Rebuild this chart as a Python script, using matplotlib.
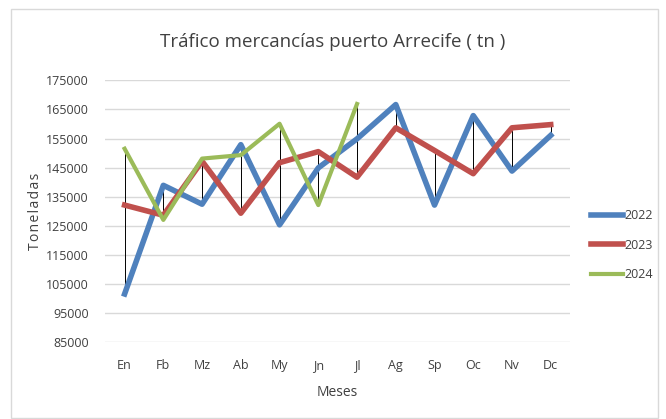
import numpy as np
import matplotlib
matplotlib.use('Agg')
import matplotlib.pyplot as plt
from matplotlib.patches import Rectangle

plt.rcParams['font.family'] = ['Open Sans', 'DejaVu Sans']

# Data
meses = ['En', 'Fb', 'Mz', 'Ab', 'My', 'Jn', 'Jl', 'Ag', 'Sp', 'Oc', 'Nv', 'Dc']
t2022 = [101500, 138900, 132400, 152900, 125300, 144900, 154900, 166700, 132100, 162900, 143800, 156100]
t2023 = [132100, 128600, 147200, 129300, 146700, 150500, 141700, 158700, 150900, 142900, 158700, 159800]
t2024 = [151500, 127000, 148100, 149300, 160100, 132100, 166900]
yticks = np.arange(85000, 175001, 10000)

fig = plt.figure(figsize=(6.66, 4.19), dpi=100)
ax = fig.add_axes([0.158, 0.184, 0.698, 0.624])

# chart border
fig.patches.append(Rectangle((11/666, 1 - 418/419), 647/666, 409/419,
                             transform=fig.transFigure, fill=False,
                             edgecolor='#d9d9d9', linewidth=1))

x = np.arange(len(meses))
x24 = np.arange(len(t2024))

# high-low lines
lo, hi = [], []
for i in range(len(meses)):
    vals = [t2022[i], t2023[i]] + ([t2024[i]] if i < len(t2024) else [])
    lo.append(min(vals))
    hi.append(max(vals))
ax.vlines(x, lo, hi, colors='black', linewidth=0.7, zorder=2)

ax.plot(x, t2022, color='#4f81bd', lw=4, label='2022', zorder=3)
ax.plot(x, t2023, color='#c0504d', lw=4, label='2023', zorder=3)
ax.plot(x24, t2024, color='#9bbb59', lw=3, label='2024', zorder=4)

ax.set_xlim(-0.5, len(meses) - 0.5)
ax.set_ylim(85000, 175000)
ax.set_yticks(yticks)
ax.set_xticks(x)
ax.set_xticklabels(meses)
ax.yaxis.grid(True, color='#d9d9d9', linewidth=1)
ax.set_axisbelow(True)
for s in ax.spines.values():
    s.set_visible(False)
ax.tick_params(length=0, labelsize=9, colors='#404040')
ax.tick_params(axis='y', pad=12)
ax.tick_params(axis='x', pad=12)

ax.set_xlabel('Meses', fontsize=10, color='#404040', labelpad=10)
ax.set_ylabel('T o n e l a d a s'.replace(' ', '\u200a'), fontsize=10, color='#404040', labelpad=2)
fig.text(0.5, 1 - 42/419, 'Tráfico mercancías puerto Arrecife ( tn )',
         ha='center', va='center', fontsize=13.5, color='#404040')

leg = ax.legend(loc='center left', bbox_to_anchor=(1.02, 0.37), frameon=False,
                fontsize=9, handlelength=2.6, handletextpad=0.1, labelspacing=1.3)
for t in leg.get_texts():
    t.set_color('#404040')

fig.savefig('out.png', dpi=100)
